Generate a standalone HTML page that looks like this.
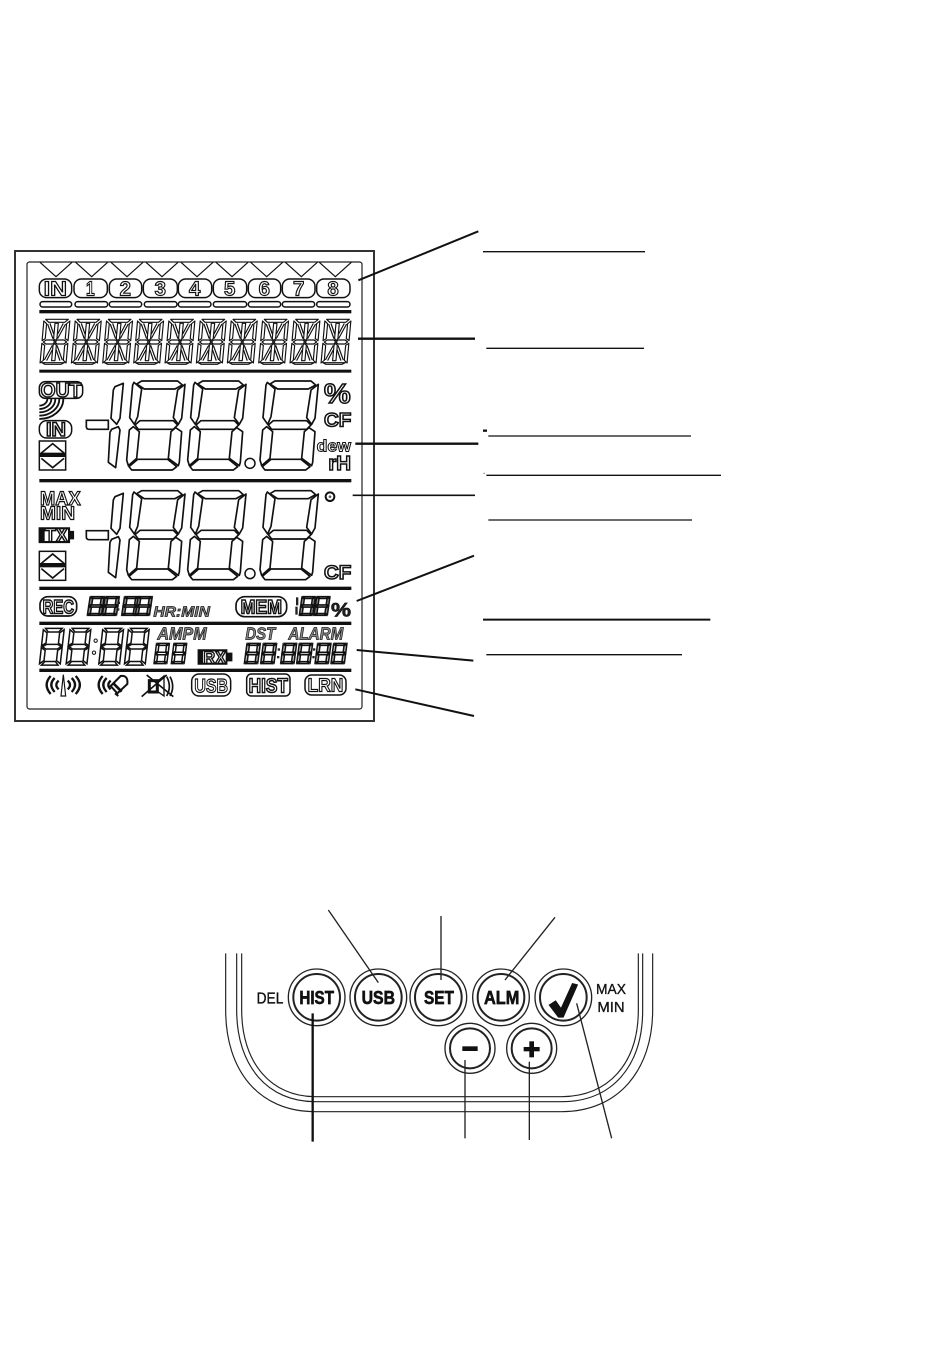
<!DOCTYPE html>
<html><head><meta charset="utf-8"><style>
html,body{margin:0;padding:0;background:#fff}
svg{display:block;filter:blur(.35px)}
text{font-family:"Liberation Sans",sans-serif;font-weight:bold}
.o{fill:#fff;stroke:#111;stroke-width:4.5}
.i{font-style:italic;fill:#888;stroke:#111;stroke-width:2.2}
.s{fill:#fff;stroke:#111;stroke-width:5;stroke-linejoin:round}
.t{fill:#fff;stroke:#111;stroke-width:3.5;stroke-linejoin:round}
.p{fill:#fff;stroke:#111;stroke-width:4.5}
.n{fill:none;stroke:#111;stroke-width:4}
.v{vector-effect:non-scaling-stroke;stroke:#111}
</style></head><body>
<svg width="950" height="1357" viewBox="0 0 950 1357" xmlns="http://www.w3.org/2000/svg">
<defs>
<g id="big">
<polygon points="28,12 43,3 151,3 165,15 143,27 51,27" class="s"/>
<polygon points="20,7 43,27 31,110 21,133 7,113 16,15" class="s"/>
<polygon points="173,13 151,30 138,113 153,133 163,115" class="s"/>
<polygon points="23,135 38,122 138,122 151,135 138,148 33,148" class="s"/>
<polygon points="18,140 36,155 28,235 3,257 -2,240 6,150" class="s"/>
<polygon points="145,143 163,155 156,247 153,257 123,235 131,155" class="s"/>
<polygon points="5,260 31,238 121,238 148,260 135,270 13,270" class="s"/>
</g>
<g id="one">
<polygon points="20,7 45,-3 35,102 25,120 8,102 15,17" class="s"/>
<polygon points="10,135 30,127 35,137 22,250 0,234 5,144" class="s"/>
</g>
<g id="seg7">
<g transform="matrix(1 0 -.1 1 16 0)">
<polygon points="8,0 72,0 60,16 20,16" class="v"/>
<polygon points="0,6 16,20 16,64 0,76" class="v"/>
<polygon points="80,6 64,20 64,64 80,76" class="v"/>
<polygon points="4,80 18,70 62,70 76,80 62,90 18,90" class="v"/>
<polygon points="0,84 16,96 16,140 0,154" class="v"/>
<polygon points="80,84 64,96 64,140 80,154" class="v"/>
<polygon points="8,160 20,144 60,144 72,160" class="v"/>
</g>
</g>
<g id="seg14">
<g transform="matrix(1 0 -.09 1 12 0)">
<polygon points="5,0 73,0 63,9 15,9" class="t"/>
<polygon points="5,131 73,131 63,136 15,136" class="t" transform="translate(0,-1)"/>
<polygon points="0,5 9,13 9,58 0,64" class="t"/>
<polygon points="78,5 69,13 69,58 78,64" class="t"/>
<polygon points="0,72 9,78 9,123 0,131" class="t"/>
<polygon points="78,72 69,78 69,123 78,131" class="t"/>
<polygon points="4,68 12,62 33,62 38,68 33,74 12,74" class="t"/>
<polygon points="40,68 45,62 66,62 74,68 66,74 45,74" class="t"/>
<polygon points="34,12 44,12 44,58 39,64 34,58" class="t"/>
<polygon points="34,78 39,72 44,78 44,124 34,124" class="t"/>
<path d="M12 14L32 58M19 12L33 44M66 14L46 58M59 12L45 44M12 122L32 78M19 124L33 92M66 122L46 78M59 124L45 92" class="n" style="stroke-width:3.5"/>
</g>
</g>
<g id="updown">
<rect x="0" y="0" width="79" height="87" class="p"/>
<path d="M6 36L40 8L74 36M6 52L40 80L74 52" class="n" style="stroke-width:5"/>
<rect x="0" y="35" width="79" height="13" fill="#111"/>
</g>
<g id="tri"><path d="M0 0L48 43L96 0" class="n" style="stroke-width:3.5"/></g>
</defs>

<!-- LCD frame -->
<rect x="15" y="251" width="359" height="470" fill="#fff" stroke="#333" stroke-width="2"/>
<rect x="27" y="262" width="335" height="447" rx="2.5" fill="none" stroke="#222" stroke-width="1.2"/>

<g transform="translate(10,245) scale(.33333)">
<use href="#tri" x="90" y="52"/><use href="#tri" x="197" y="52"/><use href="#tri" x="303" y="52"/><use href="#tri" x="408" y="52"/><use href="#tri" x="513" y="52"/><use href="#tri" x="618" y="52"/><use href="#tri" x="722" y="52"/><use href="#tri" x="826" y="52"/><use href="#tri" x="928" y="52"/>
<g class="p">
<rect x="88" y="102" width="97" height="56" rx="22"/><rect x="192" y="102" width="100" height="56" rx="22"/><rect x="298" y="102" width="97" height="56" rx="22"/><rect x="400" y="102" width="102" height="56" rx="22"/><rect x="505" y="102" width="100" height="56" rx="22"/><rect x="610" y="102" width="100" height="56" rx="22"/><rect x="715" y="102" width="97" height="56" rx="22"/><rect x="817" y="102" width="98" height="56" rx="22"/><rect x="920" y="102" width="100" height="56" rx="22"/>
<rect x="90" y="170" width="95" height="16" rx="8"/><rect x="195" y="170" width="98" height="16" rx="8"/><rect x="298" y="170" width="97" height="16" rx="8"/><rect x="403" y="170" width="98" height="16" rx="8"/><rect x="505" y="170" width="98" height="16" rx="8"/><rect x="610" y="170" width="100" height="16" rx="8"/><rect x="715" y="170" width="97" height="16" rx="8"/><rect x="817" y="170" width="97" height="16" rx="8"/><rect x="920" y="170" width="100" height="16" rx="8"/>
</g>
<g font-size="62" class="o" text-anchor="middle" style="stroke-width:3.5">
<text x="136" y="152" textLength="70" lengthAdjust="spacingAndGlyphs">IN</text>
<text x="241" y="152" textLength="26" lengthAdjust="spacingAndGlyphs">1</text><text x="346" y="152" textLength="34" lengthAdjust="spacingAndGlyphs">2</text><text x="451" y="152" textLength="34" lengthAdjust="spacingAndGlyphs">3</text><text x="554" y="152" textLength="34" lengthAdjust="spacingAndGlyphs">4</text><text x="659" y="152" textLength="34" lengthAdjust="spacingAndGlyphs">5</text><text x="763" y="152" textLength="34" lengthAdjust="spacingAndGlyphs">6</text><text x="866" y="152" textLength="34" lengthAdjust="spacingAndGlyphs">7</text><text x="969" y="152" textLength="34" lengthAdjust="spacingAndGlyphs">8</text>
</g>
<rect x="88" y="195" width="936" height="10" fill="#111"/>
<rect x="88" y="374" width="936" height="9" fill="#111"/>
<rect x="88" y="702" width="936" height="10" fill="#111"/>

<use href="#seg14" x="90" y="223"/><use href="#seg14" x="184" y="223"/><use href="#seg14" x="278" y="223"/><use href="#seg14" x="371" y="223"/><use href="#seg14" x="465" y="223"/><use href="#seg14" x="559" y="223"/><use href="#seg14" x="652" y="223"/><use href="#seg14" x="746" y="223"/><use href="#seg14" x="840" y="223"/><use href="#seg14" x="933" y="223"/>

<use href="#one" x="295" y="418"/>
<path d="M229 526H295V553H238Q229 553 229 545Z" class="p" style="stroke-width:5"/>
<use href="#big" x="352" y="405"/><use href="#big" x="535" y="405"/><use href="#big" x="752" y="405"/>
<circle cx="720" cy="655" r="15" class="p"/>

<rect x="88" y="410" width="130" height="50" rx="18" class="p"/>
<text x="92" y="456" font-size="62" class="o" textLength="122" lengthAdjust="spacingAndGlyphs">OUT</text>
<g class="n" style="stroke-width:5.5">
<path d="M160 462A72 60 0 0 1 88 522"/><path d="M148 462A60 50 0 0 1 88 512"/><path d="M136 462A48 40 0 0 1 88 502"/><path d="M124 462A36 30 0 0 1 88 492"/><path d="M112 462A24 20 0 0 1 88 482"/>
</g>
<rect x="88" y="527" width="97" height="52" rx="22" class="p"/>
<text x="108" y="573" font-size="58" class="o" textLength="60" lengthAdjust="spacingAndGlyphs">IN</text>
<use href="#updown" x="88" y="588"/>
<text x="942" y="474" font-size="84" class="o" textLength="80" lengthAdjust="spacingAndGlyphs">%</text>
<text x="942" y="545" font-size="58" class="o" textLength="82" lengthAdjust="spacingAndGlyphs">CF</text>
<text x="920" y="620" font-size="50" class="o" style="stroke-width:3" textLength="103" lengthAdjust="spacingAndGlyphs">dew</text>
<text x="955" y="675" font-size="62" class="o" textLength="68" lengthAdjust="spacingAndGlyphs">rH</text>
</g>

<g transform="translate(10,480) scale(.33333)">
<text x="90" y="75" font-size="58" class="o" style="stroke-width:3.5" textLength="122" lengthAdjust="spacingAndGlyphs">MAX</text>
<text x="90" y="118" font-size="56" class="o" style="stroke-width:3.5" textLength="105" lengthAdjust="spacingAndGlyphs">MIN</text>
<path d="M88 144H178V155H190V176H178V187H88Z" class="p" style="fill:#111"/>
<rect x="104" y="148" width="70" height="35" fill="#fff"/>
<text x="105" y="185" font-size="56" class="o" textLength="68" lengthAdjust="spacingAndGlyphs">TX</text>
<use href="#updown" x="88" y="214"/>
<use href="#one" x="295" y="43"/>
<path d="M229 152H295V179H238Q229 179 229 171Z" class="p" style="stroke-width:5"/>
<use href="#big" x="352" y="29"/><use href="#big" x="535" y="29"/><use href="#big" x="752" y="29"/>
<circle cx="720" cy="281" r="15" class="p"/>
<circle cx="960" cy="50" r="13" class="p" style="stroke-width:6"/><circle cx="960" cy="50" r="4" fill="#555"/>
<text x="942" y="297" font-size="58" class="o" textLength="82" lengthAdjust="spacingAndGlyphs">CF</text>

<rect x="88" y="320" width="936" height="10" fill="#111"/>
<rect x="88" y="425" width="936" height="10" fill="#111"/>
<rect x="88" y="566" width="936" height="10" fill="#111"/>

<rect x="90" y="350" width="110" height="58" rx="24" class="p" style="stroke-width:5"/>
<text x="98" y="400" font-size="58" class="o" textLength="94" lengthAdjust="spacingAndGlyphs">REC</text>
<g fill="#888" style="stroke-width:1.5">
<use href="#seg7" transform="translate(232,350) scale(.53,.35)"/><use href="#seg7" transform="translate(277,350) scale(.53,.35)"/>
<use href="#seg7" transform="translate(335,350) scale(.53,.35)"/><use href="#seg7" transform="translate(376,350) scale(.53,.35)"/>
<use href="#seg7" transform="translate(868,350) scale(.5,.35)"/><use href="#seg7" transform="translate(912,350) scale(.5,.35)"/>
</g>
<rect x="323" y="365" width="7" height="7" fill="#222"/><rect x="321" y="385" width="7" height="7" fill="#222"/>
<text x="430" y="410" font-size="44" class="i" textLength="170" lengthAdjust="spacingAndGlyphs">HR:MIN</text>
<rect x="678" y="350" width="152" height="60" rx="26" class="p" style="stroke-width:5"/>
<text x="692" y="401" font-size="58" class="o" textLength="124" lengthAdjust="spacingAndGlyphs">MEM</text>
<rect x="858" y="352" width="7" height="24" fill="#222"/><rect x="856" y="380" width="7" height="24" fill="#222"/>
<text x="963" y="410" font-size="58" fill="#222" stroke="#111" stroke-width="2" textLength="60" lengthAdjust="spacingAndGlyphs">%</text>

<g fill="#fff" style="stroke-width:1.5">
<use href="#seg7" transform="translate(88,445) scale(.78,.69)"/><use href="#seg7" transform="translate(168,445) scale(.78,.69)"/>
<use href="#seg7" transform="translate(266,445) scale(.78,.69)"/><use href="#seg7" transform="translate(343,445) scale(.78,.69)"/>
<use href="#seg7" transform="translate(432,490) scale(.48,.38)"/><use href="#seg7" transform="translate(484,490) scale(.48,.38)"/>
</g>
<g fill="#bbb" style="stroke-width:1.5">
<use href="#seg7" transform="translate(703,490) scale(.5,.38)"/><use href="#seg7" transform="translate(752,490) scale(.5,.38)"/>
<use href="#seg7" transform="translate(812,490) scale(.5,.38)"/><use href="#seg7" transform="translate(860,490) scale(.5,.38)"/>
<use href="#seg7" transform="translate(915,490) scale(.5,.38)"/><use href="#seg7" transform="translate(963,490) scale(.5,.38)"/>
</g>
<circle cx="257" cy="482" r="5" class="p" style="stroke-width:3"/><circle cx="252" cy="518" r="5" class="p" style="stroke-width:3"/>
<text x="442" y="478" font-size="52" class="i" textLength="148" lengthAdjust="spacingAndGlyphs">AMPM</text>
<path d="M565 510H650V520H665V542H650V552H565Z" class="p" style="fill:#111"/>
<rect x="579" y="514" width="68" height="34" fill="#fff"/>
<text x="580" y="551" font-size="54" class="o" textLength="68" lengthAdjust="spacingAndGlyphs">RX</text>
<text x="706" y="478" font-size="52" class="i" textLength="90" lengthAdjust="spacingAndGlyphs">DST</text>
<text x="835" y="478" font-size="52" class="i" textLength="165" lengthAdjust="spacingAndGlyphs">ALARM</text>
<g fill="#222"><rect x="803" y="505" width="7" height="7"/><rect x="801" y="528" width="7" height="7"/><rect x="909" y="505" width="7" height="7"/><rect x="907" y="528" width="7" height="7"/></g>

<!-- status icons -->
<g class="n" style="stroke-width:7">
<path d="M122 588Q98 614 122 642M134 594Q114 614 134 636M146 602Q132 615 146 628" />
<path d="M173 602Q187 615 173 628M185 594Q205 614 185 636M197 588Q222 614 197 642"/>
<path d="M278 588Q254 614 278 642M290 594Q270 614 290 636M302 602Q288 615 302 628"/>
</g>
<path d="M160 584L153 648H167Z" class="p" style="stroke-width:3.5"/>
<g class="n">
<path d="M302 618L332 588Q355 585 352 612L322 640Z" style="stroke-width:6"/>
<path d="M310 610L335 635" style="stroke-width:8"/>
<path d="M315 640L325 648" style="stroke-width:6"/>
<path d="M395 650L470 585M410 585L490 650" style="stroke-width:5"/>
<rect x="418" y="602" width="24" height="34" style="stroke-width:9"/>
<path d="M442 604L462 588V648L442 634" style="stroke-width:4"/>
<path d="M470 590Q486 620 470 648M480 590Q496 620 480 648" style="stroke-width:5"/>
</g>
<rect x="545" y="582" width="117" height="66" rx="22" class="p"/>
<text x="553" y="637" font-size="58" class="o" style="stroke-width:3.5" textLength="101" lengthAdjust="spacingAndGlyphs">USB</text>
<rect x="710" y="582" width="130" height="66" rx="14" class="p"/>
<text x="716" y="638" font-size="62" class="o" textLength="118" lengthAdjust="spacingAndGlyphs">HIST</text>
<rect x="885" y="585" width="123" height="60" rx="20" class="p"/>
<text x="893" y="635" font-size="56" class="o" style="stroke-width:3.5" textLength="107" lengthAdjust="spacingAndGlyphs">LRN</text>
</g>

<!-- right connectors and blank label lines -->
<g transform="translate(350,220) scale(.33333)" stroke="#111" fill="none">
<path d="M25 181L385 34" stroke-width="6"/>
<path d="M24 356H375" stroke-width="7"/>
<path d="M16 671H385" stroke-width="7"/>
<path d="M8 826H375" stroke-width="5"/>
<path d="M20 1143L372 1007" stroke-width="6"/>
<path d="M20 1290L370 1322" stroke-width="6"/>
<path d="M16 1408L372 1488" stroke-width="6"/>
<path d="M399 95H885" stroke-width="4"/>
<path d="M409 385H882" stroke-width="4"/>
<path d="M415 648H1023" stroke-width="4"/>
<path d="M409 766H1113" stroke-width="4"/>
<path d="M415 900H1026" stroke-width="4"/>
<path d="M399 1199H1081" stroke-width="6"/>
<path d="M409 1304H996" stroke-width="4"/>
<path d="M399 632H411" stroke-width="7"/>
<path d="M400 760H405" stroke-width="3" stroke="#888"/>
</g>

<!-- keypad -->
<g transform="translate(215,910) scale(.33333)" fill="none" stroke="#222">
<g stroke-width="3.5">
<path d="M32 130V300C32 480 130 605 300 605H1040C1210 605 1313 480 1313 300V130"/>
<path d="M65 130V300C65 470 160 575 300 575H1040C1190 575 1283 470 1283 300V130"/>
<path d="M80 130V300C80 460 170 560 300 560H1040C1180 560 1270 460 1270 300V130"/>
</g>
<g stroke-width="4" fill="#fff">
<circle cx="305" cy="262" r="85"/><circle cx="305" cy="262" r="70" stroke-width="6"/>
<circle cx="490" cy="262" r="85"/><circle cx="490" cy="262" r="70" stroke-width="6"/>
<circle cx="670" cy="262" r="85"/><circle cx="670" cy="262" r="70" stroke-width="6"/>
<circle cx="858" cy="262" r="85"/><circle cx="858" cy="262" r="70" stroke-width="6"/>
<circle cx="1045" cy="262" r="85"/><circle cx="1045" cy="262" r="70" stroke-width="6"/>
<circle cx="765" cy="415" r="75"/><circle cx="765" cy="415" r="60" stroke-width="6"/>
<circle cx="950" cy="415" r="75"/><circle cx="950" cy="415" r="60" stroke-width="6"/>
</g>
<g fill="#111" stroke="#111" stroke-width="2" text-anchor="middle">
<text x="305" y="282" font-size="56" textLength="104" lengthAdjust="spacingAndGlyphs">HIST</text>
<text x="490" y="282" font-size="56" textLength="100" lengthAdjust="spacingAndGlyphs">USB</text>
<text x="672" y="282" font-size="56" textLength="90" lengthAdjust="spacingAndGlyphs">SET</text>
<text x="860" y="282" font-size="56" textLength="106" lengthAdjust="spacingAndGlyphs">ALM</text>
<text x="165" y="280" font-size="46" stroke-width="1" style="font-weight:normal" textLength="80" lengthAdjust="spacingAndGlyphs">DEL</text>
<text x="1188" y="252" font-size="44" stroke-width="1" style="font-weight:normal" textLength="90" lengthAdjust="spacingAndGlyphs">MAX</text>
<text x="1188" y="306" font-size="44" stroke-width="1" style="font-weight:normal" textLength="82" lengthAdjust="spacingAndGlyphs">MIN</text>
<path d="M1002 285L1022 272L1038 295L1072 220L1088 224L1045 322L1030 322Z"/>
<rect x="743" y="410" width="44" height="12"/>
<rect x="927" y="412" width="46" height="11"/><rect x="944" y="395" width="12" height="46"/>
</g>
<path d="M340 0L490 218" stroke-width="4"/>
<path d="M678 18V210" stroke-width="4"/>
<path d="M1020 22L870 210" stroke-width="4"/>
<path d="M293 310V695" stroke-width="7" stroke="#111"/>
<path d="M750 450V685" stroke-width="4"/>
<path d="M943 455V690" stroke-width="4"/>
<path d="M1085 280L1190 685" stroke-width="4"/>
</g>
</svg>
</body></html>
